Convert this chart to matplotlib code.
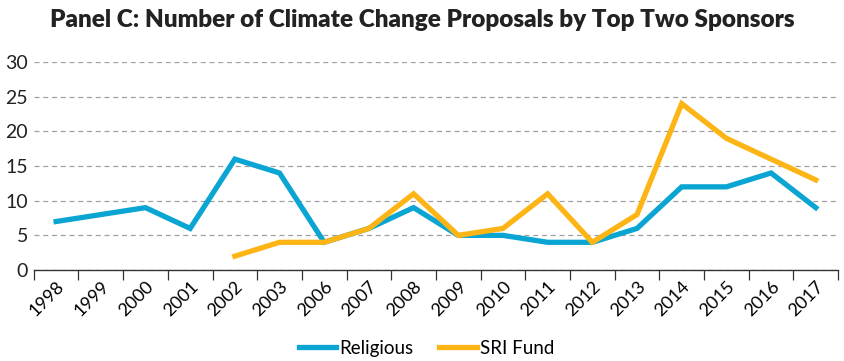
import numpy as np
import matplotlib.pyplot as plt

years = ['1998', '1999', '2000', '2001', '2002', '2003', '2006', '2007', '2008',
         '2009', '2010', '2011', '2012', '2013', '2014', '2015', '2016', '2017']
religious = [7, 8, 9, 6, 16, 14, 4, 6, 9, 5, 5, 4, 4, 6, 12, 12, 14, 9]
sri_fund = [np.nan, np.nan, np.nan, np.nan, 2, 4, 4, 6, 11, 5, 6, 11, 4, 8, 24, 19, 16, 13]

plt.rcParams['font.family'] = ['Lato', 'DejaVu Sans']

fig = plt.figure(figsize=(8.44, 3.61), dpi=100)
ax = fig.add_axes([0.040, 0.252, 0.953, 0.576])

x = np.arange(len(years))
ax.plot(x, religious, color='#0aa5d2', lw=3.8, label='Religious', solid_joinstyle='miter')
ax.plot(x, sri_fund, color='#fdb515', lw=3.8, label='SRI Fund', solid_joinstyle='miter')

ax.set_xlim(-0.5, len(years) - 0.5)
ax.set_ylim(0, 30)
ax.set_yticks(range(0, 31, 5))
ax.yaxis.grid(True, linestyle=(0, (4, 3)), color='#a0a0a0', lw=0.9)
ax.set_axisbelow(True)

ax.set_xticks(x)
ax.set_xticklabels(years, rotation=45, ha='right', rotation_mode='anchor', fontsize=13)
ax.set_xticks(np.arange(-0.5, len(years)), minor=True)
ax.tick_params(axis='x', which='major', length=0, pad=6)
ax.tick_params(axis='x', which='minor', length=7, width=0.9, color='#333333')
ax.tick_params(axis='y', length=0, labelsize=14, pad=4, colors='#222222')

for s in ['top', 'right', 'left']:
    ax.spines[s].set_visible(False)
ax.spines['bottom'].set_color('#333333')
ax.spines['bottom'].set_linewidth(1.0)

fig.text(0.5, 0.945, 'Panel C: Number of Climate Change Proposals by Top Two Sponsors',
         ha='center', va='center', fontsize=17.5, fontweight='heavy', color='#222222')

fig.legend(loc='center', bbox_to_anchor=(0.505, 0.035), ncol=2, frameon=False,
           fontsize=13.5, handlelength=2.0, columnspacing=1.4, handletextpad=0.15)

fig.savefig('out.png', dpi=100)
